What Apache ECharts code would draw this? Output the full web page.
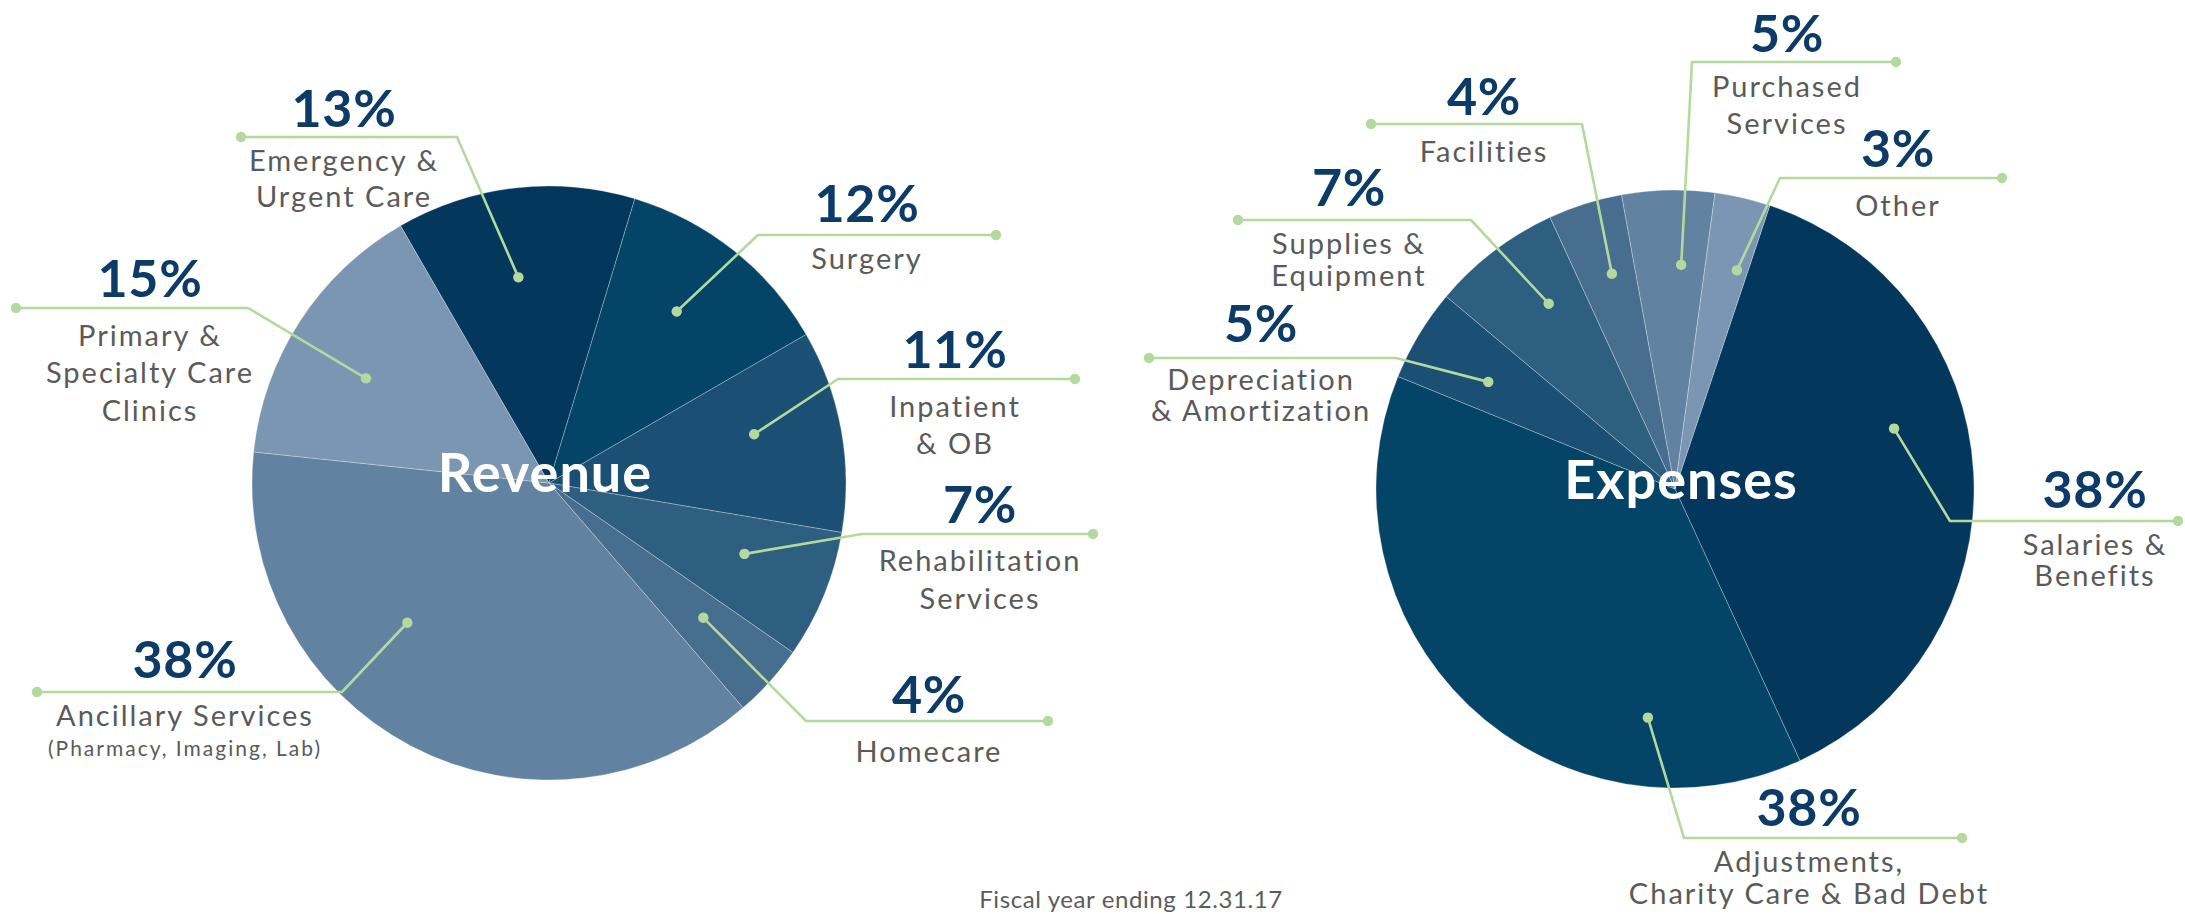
<!DOCTYPE html>
<html><head><meta charset="utf-8">
<script src="https://cdn.jsdelivr.net/npm/echarts@6/dist/echarts.min.js"></script>
<style>
html,body{margin:0;padding:0;background:#fff}
#c{width:2185px;height:914px}
#c svg text[fill="#5a5a5a" i]{letter-spacing:2px}
#c svg text[fill="#5b5b5b" i]{letter-spacing:0.6px}
#c svg text[fill="#ffffff" i]{letter-spacing:1px}
#c svg text[fill="#0c3b67" i]{letter-spacing:0.7px}
</style>
</head><body><div id="c"></div>
<script>
// ---------- DATA ----------
const revenueCategories = ['Emergency &\nUrgent Care', 'Surgery', 'Inpatient\n& OB', 'Rehabilitation\nServices', 'Homecare', 'Ancillary Services', 'Primary &\nSpecialty Care\nClinics'];
const revenueValues = [13, 12, 11, 7, 4, 38, 15];
const revenueNotes = ['', '', '', '', '', '(Pharmacy, Imaging, Lab)', ''];
const expenseCategories = ['Salaries &\nBenefits', 'Adjustments,\nCharity Care & Bad Debt', 'Depreciation\n& Amortization', 'Supplies &\nEquipment', 'Facilities', 'Purchased\nServices', 'Other'];
const expenseValues = [38, 38, 5, 7, 4, 5, 3];
const expenseNotes = ['', '', '', '', '', '', ''];
const chartTitles = ['Revenue', 'Expenses'];
const footnote = 'Fiscal year ending 12.31.17';

// ---------- STYLE / LAYOUT ----------
const sliceColors = ['#03375B', '#034467', '#1B4F73', '#2E5E80', '#486E8F', '#6182A0', '#7B96B2'];
const green = '#B4D99E';
const navy = '#0C3B67';
const gray = '#5A5A5A';
const footGray = '#5B5B5B';
const font = 'Lato';
const pies = [
  { center: [549, 483], radius: 297, startAngle: 120, titlePos: [545, 444] },
  { center: [1675, 489], radius: 299, startAngle: 71.5, titlePos: [1681, 451] }
];
// per slice: [anchor fraction along slice, anchor radius fraction, elbowX, lineY, endX, labelX,
//             percent centre offset from line, first name line centre offset, name line height]
const revenueLayout = [
  [0.46, 0.70, 457, 137, 241, 344, -30, 22, 36],
  [0.46, 0.72, 758, 235, 996, 867, -33, 22, 36],
  [0.42, 0.71, 838, 379, 1075, 955, -31, 26, 37.5],
  [0.41, 0.70, 862, 534, 1093, 980, -31, 25, 38],
  [0.44, 0.69, 806, 721, 1048, 929, -28, 29, 36],
  [0.63, 0.67, 342, 692, 37, 185, -34, 22, 36],
  [0.44, 0.71, 248, 308, 16, 150, -31, 26, 37.5]
];
const expenseLayout = [
  [0.41, 0.76, 1950, 521, 2178, 2095, -33, 22, 31],
  [0.23, 0.77, 1684, 838, 1962, 1809, -32, 22, 32],
  [0.43, 0.72, 1396, 358, 1149, 1261, -36, 20, 31],
  [0.62, 0.75, 1471, 220, 1238, 1349, -34, 22, 32],
  [0.58, 0.75, 1582, 124, 1371, 1484, -29, 26, 36],
  [0.66, 0.75, 1692, 62, 1896, 1787, -30, 23, 37],
  [0.75, 0.76, 1780, 178, 2002, 1898, -31, 26, 36]
];
const pctLine = 52;
const noteLine = 31;

const seriesDefs = [
  { cats: revenueCategories, vals: revenueValues, notes: revenueNotes, layout: revenueLayout },
  { cats: expenseCategories, vals: expenseValues, notes: expenseNotes, layout: expenseLayout }
];

// anchor point inside a slice, using the pie layout's angle convention
function anchorPoint(si, di) {
  const def = seriesDefs[si], p = pies[si];
  const total = def.vals.reduce((a, b) => a + b, 0);
  let a = -p.startAngle * Math.PI / 180;
  for (let i = 0; i < di; i++) a += def.vals[i] / total * Math.PI * 2;
  const span = def.vals[di] / total * Math.PI * 2;
  const L = def.layout[di];
  const ang = a + L[0] * span;
  const r = p.radius * L[1];
  return [p.center[0] + r * Math.cos(ang), p.center[1] + r * Math.sin(ang)];
}

function richFor(def) {
  const rich = {
    p: { fontFamily: font, fontSize: 52, fontWeight: 'bold', color: navy, lineHeight: pctLine, align: 'center' },
    m: { fontFamily: font, fontSize: 21, color: gray, lineHeight: noteLine, align: 'center' }
  };
  def.layout.forEach((L, i) => {
    const gap = Math.max(1, L[7] - L[8] / 2 - L[6] - pctLine / 2);
    rich['s' + i] = { fontSize: 1, lineHeight: gap, align: 'center' };
    rich['n' + i] = { fontFamily: font, fontSize: 29, color: gray, lineHeight: L[8], align: 'center' };
  });
  return rich;
}

const chart = echarts.init(document.getElementById('c'), null, { renderer: 'svg' });

const series = seriesDefs.map((def, si) => ({
  type: 'pie',
  center: pies[si].center,
  radius: pies[si].radius,
  startAngle: pies[si].startAngle,
  clockwise: true,
  avoidLabelOverlap: false,
  animation: false,
  silent: true,
  data: def.cats.map((c, i) => ({ name: c, value: def.vals[i], itemStyle: { color: sliceColors[i] } })),
  itemStyle: { borderColor: 'rgba(255,255,255,0.35)', borderWidth: 0.8 },
  label: {
    show: true,
    position: 'outside',
    overflow: 'none',
    fontFamily: font,
    formatter: (p) => {
      const i = p.dataIndex;
      let s = '{p|' + def.vals[i] + '%}\n{s' + i + '| }';
      def.cats[i].split('\n').forEach(l => { s += '\n{n' + i + '|' + l + '}'; });
      if (def.notes[i]) s += '\n{m|' + def.notes[i] + '}';
      return s;
    },
    rich: richFor(def)
  },
  labelLine: { show: false },
  labelLayout: (params) => {
    const L = def.layout[params.dataIndex];
    return { x: L[5], y: L[3] + L[6] - pctLine / 2, align: 'center', verticalAlign: 'top' };
  }
}));

const graphics = [];
seriesDefs.forEach((def, si) => {
  def.vals.forEach((v, di) => {
    const a = anchorPoint(si, di);
    const L = def.layout[di];
    graphics.push({ type: 'polyline', shape: { points: [a, [L[2], L[3]], [L[4], L[3]]] },
      style: { stroke: green, lineWidth: 2.6, fill: null, lineJoin: 'round' }, z: 90, silent: true });
    graphics.push({ type: 'circle', shape: { cx: a[0], cy: a[1], r: 5.2 }, style: { fill: green }, z: 100, silent: true });
    graphics.push({ type: 'circle', shape: { cx: L[4], cy: L[3], r: 5.2 }, style: { fill: green }, z: 100, silent: true });
  });
  graphics.push({ type: 'text', x: pies[si].titlePos[0], y: pies[si].titlePos[1], z: 100, silent: true,
    style: { text: chartTitles[si], fontFamily: font, fontSize: 54, fontWeight: 'bold', fill: '#FFFFFF', align: 'center', verticalAlign: 'top' } });
});
graphics.push({ type: 'text', x: 1131, y: 886, z: 100, silent: true,
  style: { text: footnote, fontFamily: font, fontSize: 24, fill: footGray, align: 'center', verticalAlign: 'top' } });

chart.setOption({
  backgroundColor: '#ffffff',
  animation: false,
  series: series,
  graphic: { elements: graphics }
});
</script></body></html>
